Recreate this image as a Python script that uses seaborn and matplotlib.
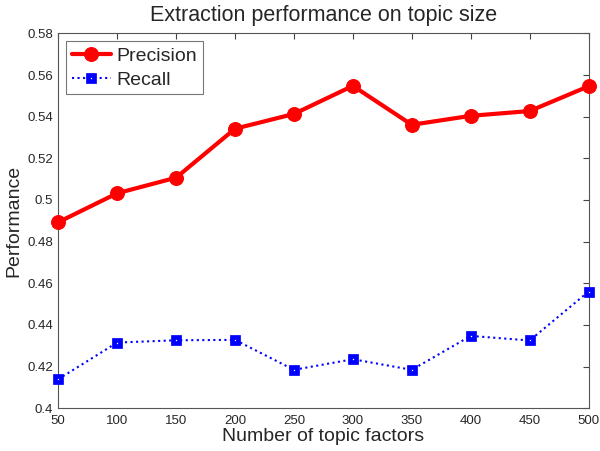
import matplotlib
matplotlib.use("Agg")
import matplotlib.pyplot as plt
import seaborn as sns

topic_factors = [50, 100, 150, 200, 250, 300, 350, 400, 450, 500]
precision = [0.4893, 0.5032, 0.5107, 0.5342, 0.5413, 0.5548, 0.5361, 0.5404, 0.5427, 0.5546]
recall = [0.4139, 0.4315, 0.4326, 0.4328, 0.4184, 0.4235, 0.4184, 0.4347, 0.4325, 0.4560]
y_ticks = [0.4, 0.42, 0.44, 0.46, 0.48, 0.5, 0.52, 0.54, 0.56, 0.58]
y_tick_labels = ["0.4", "0.42", "0.44", "0.46", "0.48", "0.5", "0.52", "0.54", "0.56", "0.58"]

sns.set_style("white")
plt.rcParams['font.family'] = ['Liberation Sans', 'DejaVu Sans']

fig, ax = plt.subplots(figsize=(6, 4.51), dpi=100)
sns.lineplot(x=topic_factors, y=precision, ax=ax, color='#ff0000', linewidth=3,
             marker='o', markersize=10, markeredgecolor='#ff0000', label='Precision',
             clip_on=False, zorder=4)
sns.lineplot(x=topic_factors, y=recall, ax=ax, color='#0000ff', linewidth=1.5,
             linestyle=':', marker='s', markersize=5, markerfacecolor='white',
             markeredgecolor='#0000ff', markeredgewidth=3.4, label='Recall',
             clip_on=False, zorder=4)

ax.set_xlim(50, 500)
ax.set_ylim(0.4, 0.58)
ax.set_xticks(topic_factors)
ax.set_yticks(y_ticks)
ax.set_yticklabels(y_tick_labels)
ax.tick_params(direction='in', top=True, right=True, length=4, labelsize=9.5,
               color='#444444', width=0.8)
ax.tick_params(axis='x', pad=5)
for s in ax.spines.values():
    s.set_color('#555555')
    s.set_linewidth(0.8)

ax.set_title('Extraction performance on topic size', fontsize=15.5, pad=9)
ax.set_xlabel('Number of topic factors', fontsize=14, labelpad=1)
ax.set_ylabel('Performance', fontsize=14, labelpad=4)
leg = ax.legend(loc='upper left', fontsize=14, frameon=True, fancybox=False,
                edgecolor='#555555', borderaxespad=0.4, handlelength=2.0,
                borderpad=0.3, labelspacing=0.33, handletextpad=0.3)
leg.get_frame().set_linewidth(0.8)

fig.subplots_adjust(left=0.097, right=0.981, top=0.926, bottom=0.095)
fig.savefig('out.png', dpi=100)
